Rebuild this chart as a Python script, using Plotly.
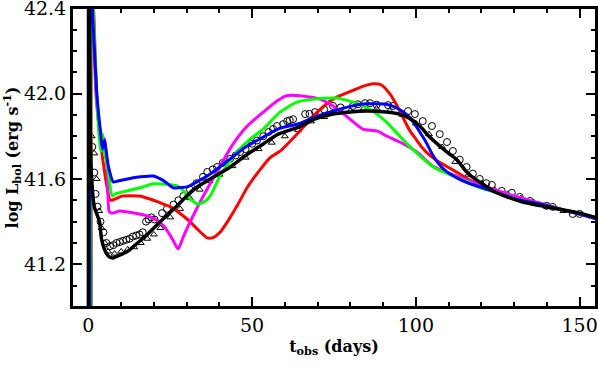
import plotly.graph_objects as go

# model light curves (t in days, log L)
black_t = [0.0, 0.05, 0.3, 0.6, 0.9, 1.8, 3.4, 4.0, 5.2, 6.4, 7.5, 9, 11.9, 15, 18, 21.0, 24, 27.1, 30, 33, 37.2, 43.3, 48, 53.4, 58, 64.6, 69, 74.7, 80, 85, 90, 95, 98, 101.2, 104, 107.3, 110, 112.5, 115.5, 118, 120.5, 123.5, 128, 132.6, 138, 143, 150, 156]
black_L = [40.9, 42.6, 42.45, 41.79, 41.63, 41.47, 41.40, 41.32, 41.26, 41.235, 41.23, 41.24, 41.26, 41.30, 41.34, 41.385, 41.43, 41.474, 41.52, 41.56, 41.60, 41.656, 41.71, 41.764, 41.81, 41.845, 41.88, 41.904, 41.914, 41.918, 41.915, 41.904, 41.885, 41.848, 41.80, 41.754, 41.72, 41.69, 41.633, 41.60, 41.575, 41.545, 41.515, 41.492, 41.475, 41.46, 41.44, 41.415]

blue_t = [0.5, 0.6, 1.2, 2.7, 3.7, 4.3, 4.9, 6.1, 7.6, 9, 11.9, 16, 19.8, 22, 24, 25.9, 28, 30.2, 33, 37.2, 43.3, 48, 53.4, 58, 64.6, 69, 74.7, 80, 85, 91, 94.5, 97.3, 99.5, 101.2, 103.2, 105.2, 107.3, 109.5, 112.5, 116, 119.5, 123, 127.7, 132, 137.8, 145, 150, 156]
blue_L = [40.9, 42.6, 42.4, 41.974, 41.82, 41.74, 41.78, 41.66, 41.586, 41.59, 41.60, 41.61, 41.614, 41.60, 41.58, 41.558, 41.56, 41.563, 41.585, 41.623, 41.694, 41.75, 41.796, 41.835, 41.86, 41.89, 41.918, 41.94, 41.952, 41.95, 41.93, 41.90, 41.86, 41.82, 41.77, 41.71, 41.665, 41.633, 41.605, 41.58, 41.563, 41.545, 41.52, 41.50, 41.483, 41.455, 41.435, 41.41]

green_t = [0.8, 0.9, 1.5, 2.5, 3.3, 3.8, 4.3, 4.8, 5.8, 7.3, 8.2, 11.9, 16, 19.8, 24, 27.1, 29, 30.2, 33.2, 35.1, 37.2, 40.2, 45.4, 49.4, 53.4, 58.5, 63.7, 68.6, 72, 75.9, 79, 82, 85, 88, 91, 94.5, 98, 101.5, 105, 108, 112, 116, 119.5, 123, 127.7, 132, 137.8, 145, 150, 156]
green_L = [40.9, 42.6, 42.4, 42.0, 41.80, 41.73, 41.81, 41.73, 41.66, 41.52, 41.53, 41.544, 41.56, 41.577, 41.575, 41.567, 41.545, 41.52, 41.483, 41.49, 41.52, 41.614, 41.726, 41.787, 41.834, 41.913, 41.96, 41.974, 41.978, 41.979, 41.968, 41.955, 41.935, 41.905, 41.867, 41.81, 41.754, 41.705, 41.66, 41.635, 41.61, 41.585, 41.56, 41.543, 41.52, 41.50, 41.483, 41.455, 41.435, 41.41]

red_t = [0.9, 1.0, 1.6, 2.5, 3.5, 4.5, 5.5, 6.7, 8, 10.4, 15.5, 19, 21.6, 25, 28.7, 31, 33.2, 36.3, 38, 40.2, 42.5, 45.4, 48.5, 50.3, 55.5, 58.5, 64.6, 69, 74.7, 80, 84, 87, 89.5, 92, 94, 96, 98, 100, 102, 104.3, 106.5, 110.4, 113.4, 117, 120.4, 124, 128, 132, 137.8, 145, 150, 156]
red_L = [40.9, 42.6, 42.4, 42.0, 41.80, 41.68, 41.58, 41.50, 41.505, 41.52, 41.52, 41.505, 41.49, 41.47, 41.43, 41.40, 41.366, 41.324, 41.325, 41.35, 41.40, 41.474, 41.56, 41.60, 41.70, 41.73, 41.825, 41.90, 41.974, 42.01, 42.035, 42.046, 42.04, 42.0, 41.95, 41.89, 41.83, 41.787, 41.745, 41.71, 41.685, 41.65, 41.623, 41.59, 41.567, 41.548, 41.525, 41.505, 41.485, 41.455, 41.435, 41.41]

magenta_t = [0.7, 0.8, 1.4, 2.3, 3.3, 4.2, 4.9, 5.8, 6.4, 7.5, 9.5, 12, 15.5, 18.5, 21.6, 23.5, 25.6, 27.4, 29, 31.1, 35.1, 40.2, 44, 48.5, 53.4, 57.6, 60.5, 64.6, 70.7, 74.7, 79.9, 83.8, 88.1, 91.2, 95.1, 100.3, 105.2, 108, 112, 117.4, 121, 125, 130, 137.8, 145, 150, 156]
magenta_L = [40.9, 42.6, 42.4, 42.0, 41.85, 41.80, 41.787, 41.633, 41.446, 41.44, 41.45, 41.445, 41.436, 41.425, 41.40, 41.37, 41.32, 41.273, 41.33, 41.40, 41.52, 41.66, 41.76, 41.848, 41.913, 41.965, 41.99, 41.99, 41.974, 41.942, 41.88, 41.834, 41.825, 41.80, 41.773, 41.726, 41.66, 41.64, 41.615, 41.586, 41.565, 41.545, 41.52, 41.487, 41.455, 41.435, 41.41]

# observations
circ_t = [1.2, 1.8, 2.2, 2.8, 3.7, 4.6, 5.5, 6.6, 7.6, 8.6, 9.6, 10.6, 11.6, 12.6, 13.6, 14.6, 15.6, 16.6, 17.6, 18.4, 19.2, 20.2, 22.5, 24, 26, 27.5, 29, 31, 33, 35, 36.3, 38, 39.3, 41, 43.3, 45, 46.3, 48, 50, 51.5, 53.4, 55, 56.4, 57.6, 59.5, 60.7, 61.5, 62.5, 66.2, 67.5, 69.2, 72, 74.7, 77, 80.8, 82.3, 84.5, 86, 88, 91.5, 93, 97.6, 99.7, 102.1, 104.9, 107.3, 109.5, 111.3, 113.4, 115.5, 117.4, 119.5, 121.5, 123.2, 126.2, 129.3, 131.7, 134.8, 139.9, 141.8, 147.9, 150]
circ_L = [41.75, 41.63, 41.53, 41.47, 41.40, 41.35, 41.30, 41.285, 41.29, 41.30, 41.305, 41.31, 41.315, 41.32, 41.33, 41.335, 41.34, 41.35, 41.40, 41.41, 41.42, 41.41, 41.44, 41.46, 41.48, 41.50, 41.52, 41.55, 41.58, 41.61, 41.633, 41.645, 41.656, 41.675, 41.694, 41.71, 41.726, 41.74, 41.765, 41.78, 41.80, 41.82, 41.834, 41.848, 41.857, 41.871, 41.875, 41.88, 41.904, 41.905, 41.913, 41.925, 41.942, 41.935, 41.942, 41.95, 41.955, 41.955, 41.948, 41.946, 41.942, 41.918, 41.904, 41.871, 41.848, 41.81, 41.773, 41.731, 41.69, 41.656, 41.625, 41.60, 41.58, 41.572, 41.544, 41.535, 41.516, 41.497, 41.474, 41.469, 41.436, 41.436]

tri_t = [1.0, 1.8, 2.5, 3.3, 4.0, 5.0, 6.0, 8, 10, 12, 14, 16, 18, 20, 22, 25, 28, 31, 34, 37, 40, 44, 48, 52, 56, 60, 64, 68, 72, 76, 80, 84, 88, 92, 96, 100, 104, 108, 112, 116, 120, 124, 128, 132, 136, 140, 145]
tri_L = [41.80, 41.72, 41.60, 41.45, 41.37, 41.30, 41.26, 41.25, 41.26, 41.27, 41.28, 41.30, 41.32, 41.34, 41.37, 41.42, 41.46, 41.51, 41.55, 41.59, 41.62, 41.66, 41.70, 41.74, 41.77, 41.80, 41.83, 41.87, 41.89, 41.91, 41.92, 41.93, 41.93, 41.92, 41.90, 41.86, 41.81, 41.75, 41.68, 41.62, 41.58, 41.55, 41.53, 41.51, 41.49, 41.47, 41.45]

x_range = [-5, 155]
y_range = [41.0, 42.401]

fig = go.Figure()

fig.add_trace(go.Scatter(x=circ_t, y=circ_L, mode='markers',
                         marker=dict(symbol='circle-open', size=7, color='black', line=dict(width=1))))
fig.add_trace(go.Scatter(x=tri_t, y=tri_L, mode='markers',
                         marker=dict(symbol='triangle-up-open', size=6, color='black', line=dict(width=1))))

for t, L, c in [(red_t, red_L, '#ff0000'), (magenta_t, magenta_L, '#ff00ff'),
                (green_t, green_L, '#00ff00'), (blue_t, blue_L, '#0000ff')]:
    fig.add_trace(go.Scatter(x=t, y=L, mode='lines', line=dict(color=c, width=3, shape='spline', smoothing=0.6)))

fig.add_trace(go.Scatter(x=black_t, y=black_L, mode='lines',
                         line=dict(color='black', width=3.5, shape='spline', smoothing=0.6)))

# empty trace so the top/right frame axes get drawn
fig.add_trace(go.Scatter(x=[None], y=[None], xaxis='x2', yaxis='y2', hoverinfo='skip'))

tick_style = dict(showline=True, linewidth=2, linecolor='black',
                  ticks='inside', ticklen=10, tickwidth=1.5, tickcolor='black',
                  showgrid=False, zeroline=False, automargin=False)
font_ticks = dict(family='DejaVu Serif', size=19, color='black')
font_title = dict(family='DejaVu Serif', size=16, color='black')
x_minor = dict(dtick=10, ticklen=5, ticks='inside', tickcolor='black', tickwidth=1.5)
y_minor = dict(dtick=0.1, ticklen=5, ticks='inside', tickcolor='black', tickwidth=1.5)

fig.update_layout(
    width=598, height=369,
    margin=dict(l=72, r=2, t=8, b=62),
    plot_bgcolor='white', paper_bgcolor='white',
    showlegend=False,
    xaxis=dict(range=x_range, tick0=0, dtick=50, minor=x_minor,
               tickfont=font_ticks, ticklabeloverflow='allow',
               title=dict(text='<b>t<sub>obs</sub> (days)</b>', standoff=6, font=font_title),
               **tick_style),
    yaxis=dict(range=y_range, tick0=41.2, dtick=0.4, tickformat='.1f', minor=y_minor,
               tickfont=font_ticks, ticklabeloverflow='allow',
               title=dict(text='<b>log L<sub>bol</sub> (erg s<sup>-1</sup>)</b>', standoff=4, font=font_title),
               **tick_style),
    xaxis2=dict(range=x_range, tick0=0, dtick=50, minor=x_minor, overlaying='x', side='top',
                anchor='y', showticklabels=False, **tick_style),
    yaxis2=dict(range=y_range, tick0=41.2, dtick=0.4, minor=y_minor, overlaying='y', side='right',
                anchor='x', showticklabels=False, **tick_style),
    shapes=[dict(type='rect', xref='paper', yref='paper', x0=0, x1=1, y0=0, y1=1,
                 line=dict(color='black', width=2), layer='above')],
)

# drop the default page margin so the 598x369 figure fills the window exactly
fig.write_html("out.html", config={'displayModeBar': False},
               post_script="document.body.style.margin='0';"
                           "document.documentElement.style.overflow='hidden';")
